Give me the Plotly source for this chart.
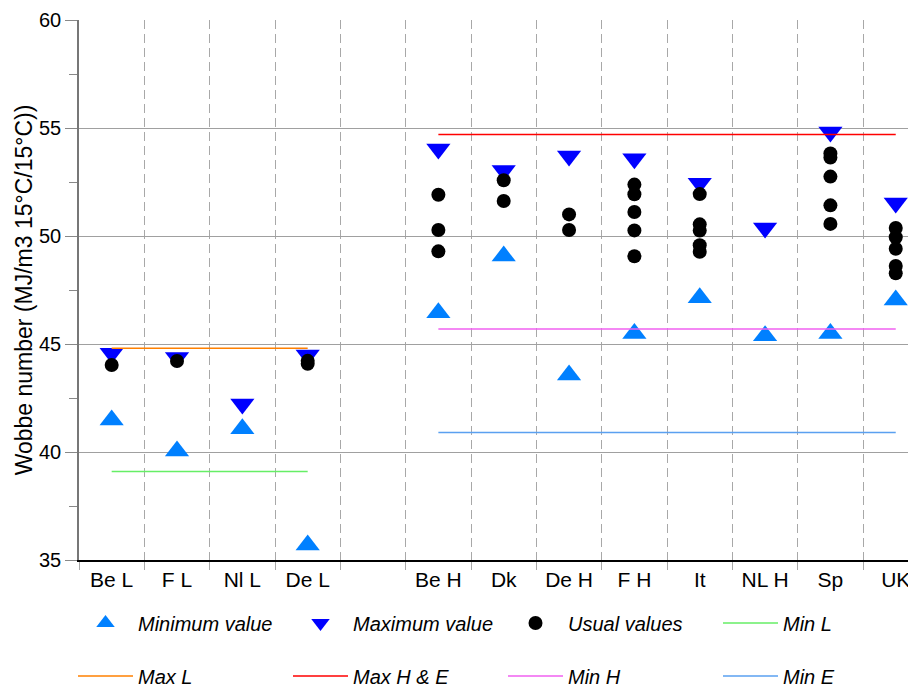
import plotly.graph_objects as go

# ---- data ----
categories = ["Be L", "F L", "Nl L", "De L", " ", "Be H", "Dk", "De H", "F H", "It", "NL H", "Sp", "UK"]

min_cats = ["Be L", "F L", "Nl L", "De L", "Be H", "Dk", "De H", "F H", "It", "NL H", "Sp", "UK"]
min_values = [41.48, 40.05, 41.08, 35.69, 46.45, 49.07, 43.56, 45.49, 47.14, 45.38, 45.49, 47.04]

max_cats = ["Be L", "F L", "Nl L", "De L", "Be H", "Dk", "De H", "F H", "It", "NL H", "Sp", "UK"]
max_values = [44.57, 44.38, 42.22, 44.49, 54.03, 53.03, 53.70, 53.58, 52.44, 50.37, 54.81, 51.53]

usual_cats = ["Be L", "F L", "De L", "De L",
              "Be H", "Be H", "Be H",
              "Dk", "Dk",
              "De H", "De H",
              "F H", "F H", "F H", "F H", "F H",
              "It", "It", "It", "It", "It",
              "Sp", "Sp", "Sp", "Sp", "Sp",
              "UK", "UK", "UK", "UK", "UK"]
usual_values = [44.03, 44.21, 44.08, 44.22,
                51.91, 50.28, 49.29,
                52.58, 51.62,
                51.00, 50.28,
                52.38, 51.93, 51.11, 50.26, 49.06,
                51.94, 50.54, 50.25, 49.57, 49.27,
                53.82, 53.63, 52.75, 51.42, 50.56,
                50.37, 49.94, 49.41, 48.61, 48.27]

l_span = ["Be L", "De L"]
h_span = ["Be H", "UK"]
min_l = 39.1
max_l = 44.8
max_he = 54.7
min_h = 45.7
min_e = 40.9

y_title = "Wobbe number (MJ/m3 15°C/15°C))"

FONT = "Arial, Liberation Sans, sans-serif"

# the page body has an 8px margin, so the figure is 8px smaller than the window
W, H = 908, 680

fig = go.Figure()

fig.add_trace(go.Scatter(x=min_cats, y=min_values, mode="markers", name="Minimum value",
                         marker=dict(symbol="triangle-up", size=21, color="#0080FF"),
                         legend="legend"))
fig.add_trace(go.Scatter(x=max_cats, y=max_values, mode="markers", name="Maximum value",
                         marker=dict(symbol="triangle-down", size=21, color="#0000FF"),
                         legend="legend2"))
fig.add_trace(go.Scatter(x=usual_cats, y=usual_values, mode="markers", name="Usual values",
                         marker=dict(symbol="circle", size=14, color="#000000"),
                         legend="legend3"))
fig.add_trace(go.Scatter(x=l_span, y=[min_l, min_l], mode="lines", name="Min L",
                         line=dict(color="#66EE66", width=1.5), legend="legend4"))
fig.add_trace(go.Scatter(x=l_span, y=[max_l, max_l], mode="lines", name="Max L",
                         line=dict(color="#FF8000", width=1.5), legend="legend5"))
fig.add_trace(go.Scatter(x=h_span, y=[max_he, max_he], mode="lines", name="Max H & E",
                         line=dict(color="#FF0000", width=1.5), legend="legend6"))
fig.add_trace(go.Scatter(x=h_span, y=[min_h, min_h], mode="lines", name="Min H",
                         line=dict(color="#F060F0", width=1.5), legend="legend7"))
fig.add_trace(go.Scatter(x=h_span, y=[min_e, min_e], mode="lines", name="Min E",
                         line=dict(color="#5AA0F0", width=1.5), legend="legend8"))

legend_common = dict(orientation="h", xref="container", yref="container",
                     xanchor="left", yanchor="middle", itemwidth=55,
                     font=dict(family=FONT, size=20, color="#000000", style="italic"),
                     bgcolor="rgba(0,0,0,0)", borderwidth=0)

col_x = [65, 280, 495, 710]
row_y = [615, 668]


def leg(col, row):
    return dict(legend_common, x=col_x[col] / W, y=1 - row_y[row] / H)


fig.update_layout(
    width=W, height=H,
    margin=dict(l=71, r=0, t=12, b=128, autoexpand=False),
    paper_bgcolor="white", plot_bgcolor="white",
    font=dict(family=FONT, size=20, color="#000000"),
    showlegend=True,
    legend=leg(0, 0), legend2=leg(1, 0), legend3=leg(2, 0), legend4=leg(3, 0),
    legend5=leg(0, 1), legend6=leg(1, 1), legend7=leg(2, 1), legend8=leg(3, 1),
    xaxis=dict(type="category", categoryorder="array", categoryarray=categories,
               range=[-0.5, 12.31], tickson="boundaries", automargin=False,
               showgrid=True, gridcolor="#A8A8A8", gridwidth=1, griddash="9px,5px",
               ticks="outside", ticklen=8, tickcolor="#A8A8A8", tickwidth=1,
               showline=True, linecolor="#000000", linewidth=1.5,
               tickfont=dict(family=FONT, size=21, color="#000000"),
               zeroline=False, fixedrange=True),
    yaxis=dict(range=[35, 60], tick0=35, dtick=5, automargin=False,
               showgrid=True, gridcolor="#A0A0A0", gridwidth=1.3,
               ticks="outside", ticklen=12, tickcolor="#888888", tickwidth=1.3,
               minor=dict(dtick=2.5, ticklen=8, tickcolor="#888888", tickwidth=1.3, showgrid=False),
               showline=True, linecolor="#777777", linewidth=1.5,
               tickfont=dict(family=FONT, size=20, color="#000000"),
               title=dict(text=y_title, font=dict(family=FONT, size=23, color="#000000"), standoff=0),
               zeroline=False, fixedrange=True),
    yaxis2=dict(overlaying="y", anchor="x", side="left", range=[35, 60], tick0=35, dtick=5,
                automargin=False,
                showgrid=False, showticklabels=False, showline=False, zeroline=False,
                ticks="inside", ticklen=11, tickcolor="#888888", tickwidth=1.3,
                minor=dict(dtick=2.5, ticklen=8, ticks="inside", tickcolor="#888888", tickwidth=1.3, showgrid=False),
                fixedrange=True),
)

fig.write_html("out.html")
